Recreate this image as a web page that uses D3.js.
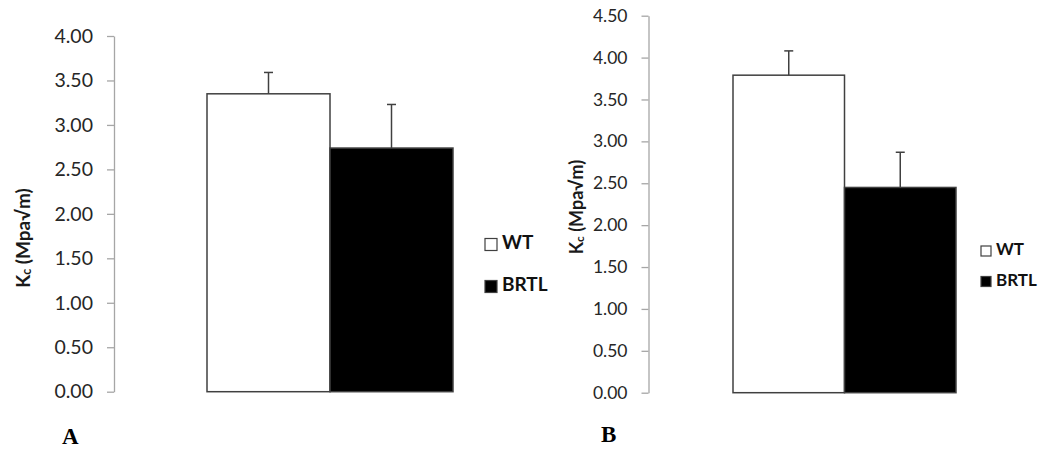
<!DOCTYPE html>
<html>
<head>
<meta charset="utf-8">
<script src="https://cdn.jsdelivr.net/npm/d3@7"></script>
<style>
  html, body { margin: 0; padding: 0; background: #fff; }
  svg { display: block; }
</style>
</head>
<body>
<svg id="chart" width="1039" height="451"></svg>
<script>
// Fracture toughness Kc, wild type vs Brtl, two panels
const groups = ["WT", "BRTL"];

const meanA = [3.35, 2.74];
const errA  = [0.24, 0.49];
const ticksA = [0, 0.5, 1, 1.5, 2, 2.5, 3, 3.5, 4];

const meanB = [3.79, 2.45];
const errB  = [0.29, 0.42];
const ticksB = [0, 0.5, 1, 1.5, 2, 2.5, 3, 3.5, 4, 4.5];

const fills = ["#ffffff", "#000000"];
const panelLetters = ["A", "B"];

const svg = d3.select("#chart");
const uiFont = "Lato, 'Open Sans', sans-serif";

const panels = [
  {
    values: meanA, errors: errA, ticks: ticksA, letter: panelLetters[0],
    axisX: 114, yTop: 36, yBottom: 391.7, barsX: [207, 453],
    tickFont: 19.5, labelPos: [25, 238], labelFont: 19,
    legendX: 485, legendY: [244.5, 286.5], box: 12, legendFont: 19,
    letterPos: [62, 444]
  },
  {
    values: meanB, errors: errB, ticks: ticksB, letter: panelLetters[1],
    axisX: 648.5, yTop: 15.7, yBottom: 392.7, barsX: [733, 956],
    tickFont: 17.5, labelPos: [578, 207], labelFont: 18,
    legendX: 981, legendY: [251, 281.5], box: 10, legendFont: 17,
    letterPos: [601, 442]
  }
];

panels.forEach(p => {
  const g = svg.append("g");
  const y = d3.scaleLinear()
    .domain([0, d3.max(p.ticks)])
    .range([p.yBottom, p.yTop]);
  const x = d3.scaleBand().domain(groups).range(p.barsX).padding(0);

  // value axis
  const axis = d3.axisLeft(y)
    .tickValues(p.ticks)
    .tickFormat(d3.format(".2f"))
    .tickSize(7)
    .tickSizeOuter(0)
    .tickPadding(14);
  const ag = g.append("g")
    .attr("transform", `translate(${p.axisX},0)`)
    .call(axis);
  ag.select(".domain").attr("stroke", "#a6a6a6").attr("stroke-width", 1.3);
  ag.selectAll(".tick line").attr("stroke", "#a6a6a6").attr("stroke-width", 1.3);
  ag.selectAll(".tick text")
    .attr("fill", "#262626")
    .style("font-family", uiFont)
    .style("font-size", p.tickFont + "px");

  // axis title: K with subscript c
  const t = g.append("text")
    .attr("transform", `translate(${p.labelPos[0]},${p.labelPos[1]}) rotate(-90)`)
    .attr("text-anchor", "middle")
    .attr("dominant-baseline", "middle")
    .style("font-family", uiFont)
    .style("font-weight", "bold")
    .style("font-size", p.labelFont + "px")
    .attr("fill", "#1a1a1a");
  t.append("tspan").text("K");
  t.append("tspan").text("c").attr("dy", 3).style("font-size", (p.labelFont * 0.65) + "px");
  t.append("tspan").text(" (Mpa√m)").attr("dy", -3);

  // bars
  g.selectAll("rect.bar")
    .data(groups)
    .join("rect")
    .attr("class", "bar")
    .attr("x", d => x(d))
    .attr("width", x.bandwidth())
    .attr("y", (d, i) => y(p.values[i]))
    .attr("height", (d, i) => y(0) - y(p.values[i]))
    .attr("fill", (d, i) => fills[i])
    .attr("stroke", "#404040")
    .attr("stroke-width", 1.5);

  // upper error bars
  const eg = g.selectAll("g.err")
    .data(groups)
    .join("g")
    .attr("class", "err")
    .attr("stroke", "#404040")
    .attr("stroke-width", 1.5);
  eg.append("line")
    .attr("x1", d => x(d) + x.bandwidth() / 2)
    .attr("x2", d => x(d) + x.bandwidth() / 2)
    .attr("y1", (d, i) => y(p.values[i]))
    .attr("y2", (d, i) => y(p.values[i] + p.errors[i]));
  eg.append("line")
    .attr("x1", d => x(d) + x.bandwidth() / 2 - 4.5)
    .attr("x2", d => x(d) + x.bandwidth() / 2 + 4.5)
    .attr("y1", (d, i) => y(p.values[i] + p.errors[i]))
    .attr("y2", (d, i) => y(p.values[i] + p.errors[i]));

  // legend
  const lg = g.selectAll("g.legend")
    .data(groups)
    .join("g")
    .attr("class", "legend")
    .attr("transform", (d, i) => `translate(${p.legendX},${p.legendY[i]})`);
  lg.append("rect")
    .attr("x", 0)
    .attr("y", -p.box / 2)
    .attr("width", p.box)
    .attr("height", p.box)
    .attr("fill", (d, i) => fills[i])
    .attr("stroke", "#404040")
    .attr("stroke-width", 1.2);
  lg.append("text")
    .attr("x", p.box + 5)
    .attr("y", 0)
    .attr("dominant-baseline", "middle")
    .style("font-family", uiFont)
    .style("font-weight", "bold")
    .style("font-size", p.legendFont + "px")
    .attr("fill", "#111")
    .text(d => d);

  // panel letter
  g.append("text")
    .attr("x", p.letterPos[0])
    .attr("y", p.letterPos[1])
    .style("font-family", "'Liberation Serif', 'Times New Roman', serif")
    .style("font-weight", "bold")
    .style("font-size", "23px")
    .attr("fill", "#000")
    .text(p.letter);
});
</script>
</body>
</html>
